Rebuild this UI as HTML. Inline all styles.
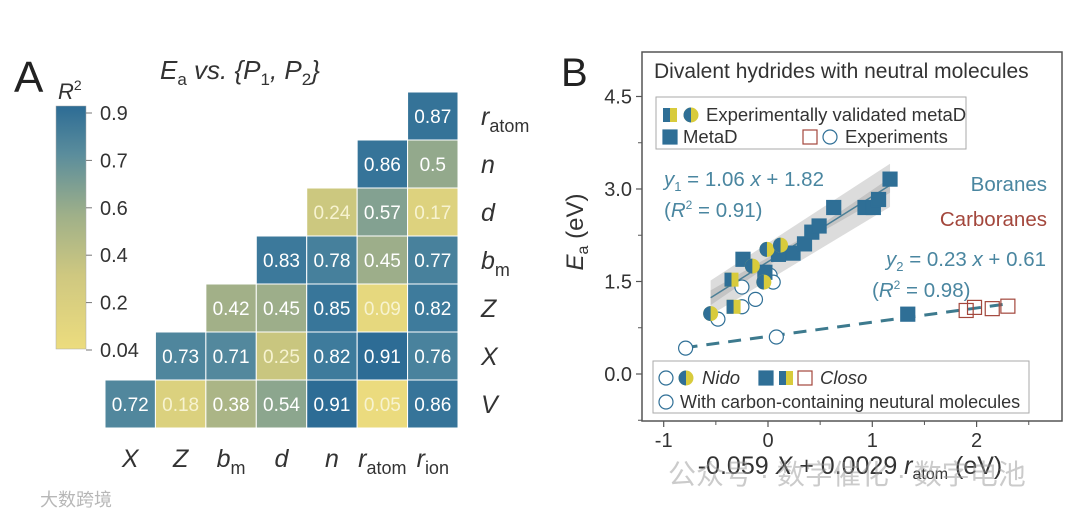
<!DOCTYPE html>
<html><head><meta charset="utf-8">
<style>
html,body{margin:0;padding:0;background:#fff;}
svg{display:block;font-family:"Liberation Sans","Noto Sans CJK SC",sans-serif;}
</style></head>
<body>
<svg id="fig" width="1080" height="519" viewBox="0 0 1080 519" xmlns="http://www.w3.org/2000/svg">
<defs>
<linearGradient id="cbar" x1="0" y1="1" x2="0" y2="0">
<stop offset="0" stop-color="#ecdc7e"/><stop offset="0.3" stop-color="#cfc880"/>
<stop offset="0.55" stop-color="#9fb089"/><stop offset="0.8" stop-color="#5b8d9c"/>
<stop offset="1" stop-color="#2d6c95"/></linearGradient>
</defs>
<g id="panelA">
<text x="14" y="92" font-size="44" fill="#222">A</text>
<text x="160" y="79" font-size="26" fill="#333" font-style="italic">E<tspan font-size="17" dy="6" font-style="normal">a</tspan><tspan dy="-6"> vs. {P</tspan><tspan font-size="17" dy="6" font-style="normal">1</tspan><tspan dy="-6">, P</tspan><tspan font-size="17" dy="6" font-style="normal">2</tspan><tspan dy="-6">}</tspan></text>
<text x="58" y="99" font-size="22" font-style="italic" fill="#333">R<tspan font-size="14" dy="-9" font-style="normal">2</tspan></text>
<rect x="56" y="106" width="30" height="243" fill="url(#cbar)" stroke="#aaa" stroke-width="0.5"/>
<g id="cbticks"></g>
<g id="cells"></g>
<g id="hlabels"></g>
</g>
<g id="panelB">
<text x="561" y="86" font-size="40" fill="#222">B</text>
<g id="plotB"></g>
</g>
<text x="668" y="484" font-size="28" fill="#999" opacity="0.5">公众号 · 数字催化 · 数字电池</text>
<text x="40" y="506" font-size="18" fill="#888" opacity="0.6">大数跨境</text>
</svg>
<script>
const NS="http://www.w3.org/2000/svg";
function mk(tag,attrs,parent,txt){const e=document.createElementNS(NS,tag);for(const k in attrs)e.setAttribute(k,attrs[k]);if(txt!==undefined)e.textContent=txt;parent.appendChild(e);return e;}

// ---------- Heatmap data ----------
const hmCols=["X","Z","bm","d","n","ratom","rion"];
const hmRows=["ratom","n","d","bm","Z","X","V"];
const rowRatom=[null,null,null,null,null,null,0.87];
const rowN=[null,null,null,null,null,0.86,0.5];
const rowD=[null,null,null,null,0.24,0.57,0.17];
const rowBm=[null,null,null,0.83,0.78,0.45,0.77];
const rowZ=[null,null,0.42,0.45,0.85,0.09,0.82];
const rowX=[null,0.73,0.71,0.25,0.82,0.91,0.76];
const rowV=[0.72,0.18,0.38,0.54,0.91,0.05,0.86];
const hmValues=[rowRatom,rowN,rowD,rowBm,rowZ,rowX,rowV];
const cbTickLabels=["0.9","0.7","0.6","0.4","0.2","0.04"];

const stops=[[0.04,[236,220,126]],[0.17,[221,210,126]],[0.25,[201,198,127]],[0.4,[166,178,135]],[0.55,[138,165,143]],[0.7,[85,137,157]],[0.82,[62,123,156]],[0.91,[45,108,149]]];
function col(v){if(v<=stops[0][0])return `rgb(${stops[0][1]})`;for(let i=1;i<stops.length;i++){if(v<=stops[i][0]){const a=stops[i-1],b=stops[i],t=(v-a[0])/(b[0]-a[0]);return `rgb(${a[1].map((c,j)=>Math.round(c+(b[1][j]-c)*t)).join(',')})`;}}return `rgb(${stops[stops.length-1][1]})`;}

const cellX=c=>105+c*50.43, cellY=r=>92+r*48, cw=50.43, ch=48;
const cells=document.getElementById('cells');
hmValues.forEach((row,r)=>row.forEach((v,c)=>{
  if(v===null)return;
  const rc=mk('rect',{x:cellX(c),y:cellY(r),width:cw,height:ch,fill:col(v),stroke:"#fff","stroke-width":1},cells);
  
  
  const t=mk('text',{x:cellX(c)+cw/2,y:cellY(r)+ch/2+7,"text-anchor":"middle","font-size":19,fill:v<0.3?"#f7f3d0":"#fff"},cells,String(v));
  
  
}));
const cbt=document.getElementById('cbticks');
cbTickLabels.forEach((lab,i)=>{
  const y=113+i*(350-113)/5;
  const l=mk('line',{x1:86,x2:92,y1:y,y2:y,stroke:"#777"},cbt);
  
  
  const t=mk('text',{x:100,y:y+7,"font-size":20,fill:"#333"},cbt,lab);
  
  
});
const hl=document.getElementById('hlabels');
function label(name,x,y,anchor){
  const t=mk('text',{x:x,y:y,"font-size":25,"font-style":"italic",fill:"#333","text-anchor":anchor},hl);
  const m={X:["X",""],Z:["Z",""],bm:["b","m"],d:["d",""],n:["n",""],ratom:["r","atom"],rion:["r","ion"],V:["V",""]}[name];
  t.appendChild(document.createTextNode(m[0]));
  if(m[1]){mk('tspan',{"font-size":18,dy:7,"font-style":"normal"},t,m[1]);}
  return t;
}
hmCols.forEach((n,c)=>{const t=label(n,cellX(c)+cw/2,467,"middle");});
hmRows.forEach((n,r)=>{const t=label(n,481,cellY(r)+ch/2+9,"start");});

// ---------- Scatter data ----------
const metaDx=[-0.24,0.10,0.24,0.35,0.42,0.49,0.63,0.93,1.01,1.06,1.17,-0.03,1.34];
const metaDy=[1.86,1.94,1.96,2.11,2.30,2.40,2.70,2.70,2.70,2.83,3.16,1.65,0.97];
const valSqX=[-0.35,-0.33];
const valSqY=[1.53,1.09];
const valCircX=[-0.55,-0.15,-0.01,0.12,-0.04];
const valCircY=[0.98,1.75,2.02,2.09,1.49];
const expCircX=[-0.48,-0.25,-0.25,-0.12,0.02,0.05,-0.79,0.08];
const expCircY=[0.89,1.41,1.09,1.21,1.60,1.49,0.42,0.60];
const expSqX=[1.90,1.98,2.15,2.30];
const expSqY=[1.03,1.08,1.06,1.10];
const fit1=[1.06,1.82], fit1Range=[-0.55,1.17];
const fit2=[0.23,0.61], fit2Range=[-0.8,2.3];
const xTicks=[-1,0,1,2];
const yTicks=[0,1.5,3.0,4.5];
const yTickLabels=["0.0","1.5","3.0","4.5"];

const X=v=>768+v*104.3, Y=v=>374-v*61.67;
const BLUE="#2f6f96", YEL="#d8cb3c", RED="#a3473c";
const P=document.getElementById('plotB');
function nm(e,n){return e;}

const bx0=fit1Range[0],bx1=fit1Range[1];
const f1=x=>fit1[0]*x+fit1[1];
nm(mk('polygon',{points:`${X(bx0)},${Y(f1(bx0)+0.28)} ${X(bx1)},${Y(f1(bx1)+0.35)} ${X(bx1)},${Y(f1(bx1)-0.35)} ${X(bx0)},${Y(f1(bx0)-0.28)}`,fill:"#dcdcdc"},P),'prediction-band');
nm(mk('polygon',{points:`${X(bx0)},${Y(f1(bx0)+0.12)} ${X(0.3)},${Y(f1(0.3)+0.04)} ${X(bx1)},${Y(f1(bx1)+0.12)} ${X(bx1)},${Y(f1(bx1)-0.12)} ${X(0.3)},${Y(f1(0.3)-0.04)} ${X(bx0)},${Y(f1(bx0)-0.12)}`,fill:"#c4c4c4"},P),'confidence-band');
nm(mk('line',{x1:X(bx0),y1:Y(f1(bx0)),x2:X(bx1),y2:Y(f1(bx1)),stroke:"#4c7f96","stroke-width":1.5},P),'fit-line-boranes');
nm(mk('line',{x1:X(fit2Range[0]),y1:Y(fit2[0]*fit2Range[0]+fit2[1]),x2:X(fit2Range[1]),y2:Y(fit2[0]*fit2Range[1]+fit2[1]),stroke:"#3d7a8e","stroke-width":3,"stroke-dasharray":"13,9"},P),'fit-line-carboranes');

nm(mk('rect',{x:642,y:52,width:420,height:369,fill:"none",stroke:"#555","stroke-width":1.5},P),'plot-frame');
xTicks.forEach(v=>{nm(mk('line',{x1:X(v),x2:X(v),y1:421,y2:427,stroke:"#555","stroke-width":1.2},P),'x-tick');
 nm(mk('text',{x:X(v),y:447,"text-anchor":"middle","font-size":20,fill:"#333"},P,String(v)),'x-tick-label');});
[-0.5,0.5,1.5,2.5].forEach(v=>nm(mk('line',{x1:X(v),x2:X(v),y1:421,y2:425,stroke:"#555"},P),'x-minor-tick'));
yTicks.forEach((v,i)=>{nm(mk('line',{x1:636,x2:642,y1:Y(v),y2:Y(v),stroke:"#555","stroke-width":1.2},P),'y-tick');
 nm(mk('text',{x:632,y:Y(v)+7,"text-anchor":"end","font-size":20,fill:"#333"},P,yTickLabels[i]),'y-tick-label');});
[-0.75,0.75,2.25,3.75].forEach(v=>nm(mk('line',{x1:638,x2:642,y1:Y(v),y2:Y(v),stroke:"#555"},P),'y-minor-tick'));

const yt=nm(mk('text',{x:0,y:0,transform:"translate(583,232) rotate(-90)","text-anchor":"middle","font-size":24,fill:"#333"},P),'y-axis-title');
yt.innerHTML='<tspan font-style="italic">E</tspan><tspan font-size="16" dy="5">a</tspan><tspan dy="-5"> (eV)</tspan>';
const xt=nm(mk('text',{x:850,y:474,"text-anchor":"middle","font-size":25,fill:"#333"},P),'x-axis-title');
xt.innerHTML='-0.059 <tspan font-style="italic">X</tspan> + 0.0029 <tspan font-style="italic">r</tspan><tspan font-size="16" dy="5">atom</tspan><tspan dy="-5"> (eV)</tspan>';
nm(mk('text',{x:654,y:78,"font-size":21,fill:"#333"},P,"Divalent hydrides with neutral molecules"),'plot-title');
nm(mk('text',{x:1047,y:191,"text-anchor":"end","font-size":20.5,fill:"#4a86a0"},P,"Boranes"),'boranes-label');
nm(mk('text',{x:1047,y:226,"text-anchor":"end","font-size":20.5,fill:RED},P,"Carboranes"),'carboranes-label');
const e1=nm(mk('text',{x:664,y:186,"font-size":20.5,fill:"#4a86a0"},P),'equation-1');
e1.innerHTML='<tspan font-style="italic">y</tspan><tspan font-size="13" dy="5">1</tspan><tspan dy="-5">   = 1.06 </tspan><tspan font-style="italic">x</tspan> + 1.82';
const r1=nm(mk('text',{x:664,y:217,"font-size":20.5,fill:"#4a86a0"},P),'r-squared-1');
r1.innerHTML='(<tspan font-style="italic">R</tspan><tspan font-size="12" dy="-8">2</tspan><tspan dy="8"> = 0.91)</tspan>';
const e2=nm(mk('text',{x:1046,y:266,"text-anchor":"end","font-size":20.5,fill:"#4a86a0"},P),'equation-2');
e2.innerHTML='<tspan font-style="italic">y</tspan><tspan font-size="13" dy="5">2</tspan><tspan dy="-5"> = 0.23 </tspan><tspan font-style="italic">x</tspan> + 0.61';
const r2=nm(mk('text',{x:872,y:297,"font-size":20.5,fill:"#4a86a0"},P),'r-squared-2');
r2.innerHTML='(<tspan font-style="italic">R</tspan><tspan font-size="12" dy="-8">2</tspan><tspan dy="8"> = 0.98)</tspan>';

function sq(x,y,fill,stroke,name){return nm(mk('rect',{x:x-7,y:y-7,width:14,height:14,fill:fill,stroke:stroke,"stroke-width":1.2},P),name);}
function circ(x,y,name){return nm(mk('circle',{cx:x,cy:y,r:7,fill:"#fff",stroke:BLUE,"stroke-width":1.2},P),name);}
function halfSq(x,y,name){const g=nm(mk('g',{},P),name);mk('rect',{x:x-7,y:y-7,width:14,height:14,fill:YEL},g);mk('rect',{x:x-7,y:y-7,width:7,height:14,fill:BLUE},g);return g;}
function halfCirc(x,y,name){const g=nm(mk('g',{},P),name);mk('circle',{cx:x,cy:y,r:7.5,fill:YEL},g);mk('path',{d:`M${x},${y-7.5} A7.5,7.5 0 0 0 ${x},${y+7.5} Z`,fill:BLUE},g);return g;}
expCircX.forEach((v,i)=>circ(X(v),Y(expCircY[i]),'experiment-circle'));
metaDx.forEach((v,i)=>sq(X(v),Y(metaDy[i]),BLUE,BLUE,'metad-square'));
valSqX.forEach((v,i)=>halfSq(X(v),Y(valSqY[i]),'validated-square'));
valCircX.forEach((v,i)=>halfCirc(X(v),Y(valCircY[i]),'validated-circle'));
expSqX.forEach((v,i)=>sq(X(v),Y(expSqY[i]),"none",RED,'experiment-square'));

const L1=nm(mk('g',{},P),'legend-top');
mk('rect',{x:656,y:97,width:310,height:52,fill:"#fff",stroke:"#aaa"},L1);
halfSq(670,115,'legend-validated-square');halfCirc(691,115,'legend-validated-circle');
nm(mk('text',{x:706,y:121,"font-size":18.5,fill:"#333"},L1,"Experimentally validated metaD"),'legend-validated-text');
sq(670,137,BLUE,BLUE,'legend-metad-square');
nm(mk('text',{x:683,y:143,"font-size":18.5,fill:"#333"},L1,"MetaD"),'legend-metad-text');
sq(810,137,"none",RED,'legend-exp-square');circ(830,137,'legend-exp-circle');
nm(mk('text',{x:845,y:143,"font-size":18.5,fill:"#333"},L1,"Experiments"),'legend-exp-text');
const L2=nm(mk('g',{},P),'legend-bottom');
mk('rect',{x:653,y:361,width:376,height:52,fill:"#fff",stroke:"#aaa"},L2);
circ(666,378,'legend-nido-circle');halfCirc(686,378,'legend-nido-half');
nm(mk('text',{x:702,y:384,"font-size":18.5,"font-style":"italic",fill:"#333"},L2,"Nido"),'legend-nido-text');
sq(766,378,BLUE,BLUE,'legend-closo-square');halfSq(786,378,'legend-closo-half');sq(805,378,"none",RED,'legend-closo-exp');
nm(mk('text',{x:820,y:384,"font-size":18.5,"font-style":"italic",fill:"#333"},L2,"Closo"),'legend-closo-text');
circ(666,402,'legend-carbon-circle');
nm(mk('text',{x:680,y:408,"font-size":18,fill:"#333"},L2,"With carbon-containing neutural molecules"),'legend-carbon-text');
</script>
</body></html>
